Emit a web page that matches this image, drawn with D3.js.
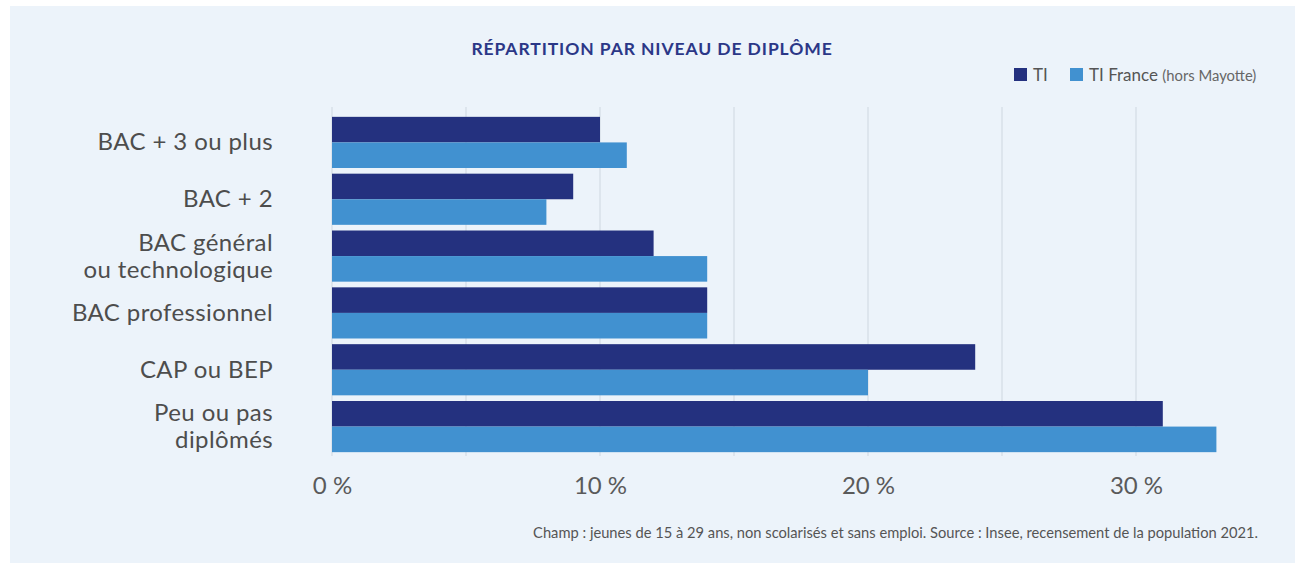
<!DOCTYPE html>
<html>
<head>
<meta charset="utf-8">
<script src="https://cdn.jsdelivr.net/npm/d3@7"></script>
<style>
  body { margin: 0; background: #fff; }
  svg text { font-family: Lato, "Open Sans", sans-serif; }
</style>
</head>
<body>
<svg width="1295" height="563"></svg>
<script>
// categories (top to bottom)
const categories = [
  "BAC + 3 ou plus",
  "BAC + 2",
  "BAC général|ou technologique",
  "BAC professionnel",
  "CAP ou BEP",
  "Peu ou pas|diplômés",
]
// shares in %
const tiValues = [10, 9, 12, 14, 24, 31]
const franceValues = [11, 8, 14, 14, 20, 33]
const seriesNames = ["TI", "TI France"]
const tickValues = [0, 10, 20, 30]
const gridValues = [0, 5, 10, 15, 20, 25, 30]

const colors = { TI: "#24317f", "TI France": "#4191d0" }

const svg = d3.select("svg")

// panel background
svg.append("rect")
  .attr("x", 10).attr("y", 6)
  .attr("width", 1285).attr("height", 557)
  .attr("fill", "#ecf3fa")

// title
svg.append("text")
  .attr("x", 652).attr("y", 55)
  .attr("text-anchor", "middle")
  .attr("font-size", 17.5)
  .attr("font-weight", 700)
  .attr("letter-spacing", 0.9)
  .attr("fill", "#2b3787")
  .text("RÉPARTITION PAR NIVEAU DE DIPLÔME")

const x = d3.scaleLinear().domain([0, 30]).range([332, 1136])
const y = d3.scaleBand()
  .domain(categories)
  .range([114, 455])
  .paddingInner(0.1)
  .paddingOuter(0.05)
const ySub = d3.scaleBand()
  .domain(seriesNames)
  .range([0, y.bandwidth()])

// gridlines
svg.append("g")
  .selectAll("line")
  .data(gridValues)
  .join("line")
  .attr("x1", (d) => x(d)).attr("x2", (d) => x(d))
  .attr("y1", 107).attr("y2", 456)
  .attr("stroke", "#d9e0e8")
  .attr("stroke-width", 1.5)

// bars
const rows = categories.map((c, i) => ({ cat: c, TI: tiValues[i], "TI France": franceValues[i] }))
const groups = svg.append("g")
  .selectAll("g")
  .data(rows)
  .join("g")
  .attr("transform", (d) => `translate(0,${y(d.cat)})`)

groups.selectAll("rect")
  .data((d) => seriesNames.map((s) => ({ s, v: d[s] })))
  .join("rect")
  .attr("x", x(0))
  .attr("y", (d) => ySub(d.s))
  .attr("width", (d) => x(d.v) - x(0))
  .attr("height", ySub.bandwidth())
  .attr("fill", (d) => colors[d.s])

// category labels
const labels = svg.append("g")
  .selectAll("text")
  .data(categories)
  .join("text")
  .attr("text-anchor", "end")
  .attr("font-size", 24)
  .attr("letter-spacing", 0.4)
  .attr("fill", "#4d4d4d")
  .attr("transform", (d) => `translate(273,${y(d) + y.bandwidth() / 2})`)

labels.each(function (d) {
  const lines = d.split("|")
  const t = d3.select(this)
  lines.forEach((l, i) => {
    t.append("tspan")
      .attr("x", 0)
      .attr("y", (i - (lines.length - 1) / 2) * 27 + 8)
      .text(l)
  })
})

// x axis labels
const xAxis = svg.append("g")
  .attr("transform", "translate(0,456)")
  .call(d3.axisBottom(x).tickValues(tickValues).tickFormat((d) => d + " %").tickSize(0).tickPadding(21))
xAxis.select(".domain").remove()
xAxis.selectAll("text")
  .attr("font-size", 24)
  .attr("fill", "#5a5a5a")
  .style("font-family", "Lato, sans-serif")

// legend
const legend = svg.append("g")
legend.append("rect").attr("x", 1014).attr("y", 68).attr("width", 13).attr("height", 13).attr("fill", colors.TI)
legend.append("text").attr("x", 1033).attr("y", 81).attr("font-size", 17).attr("fill", "#555").text("TI")
legend.append("rect").attr("x", 1070).attr("y", 68).attr("width", 13).attr("height", 13).attr("fill", colors["TI France"])
const lt = legend.append("text").attr("x", 1089).attr("y", 81).attr("font-size", 17).attr("fill", "#555")
lt.append("tspan").text("TI France ")
lt.append("tspan").attr("font-size", 14.8).attr("fill", "#666").text("(hors Mayotte)")

// source note
svg.append("text")
  .attr("x", 1258).attr("y", 538)
  .attr("text-anchor", "end")
  .attr("font-size", 14.7)
  .attr("fill", "#555")
  .text("Champ : jeunes de 15 à 29 ans, non scolarisés et sans emploi. Source : Insee, recensement de la population 2021.")
</script>
</body>
</html>
